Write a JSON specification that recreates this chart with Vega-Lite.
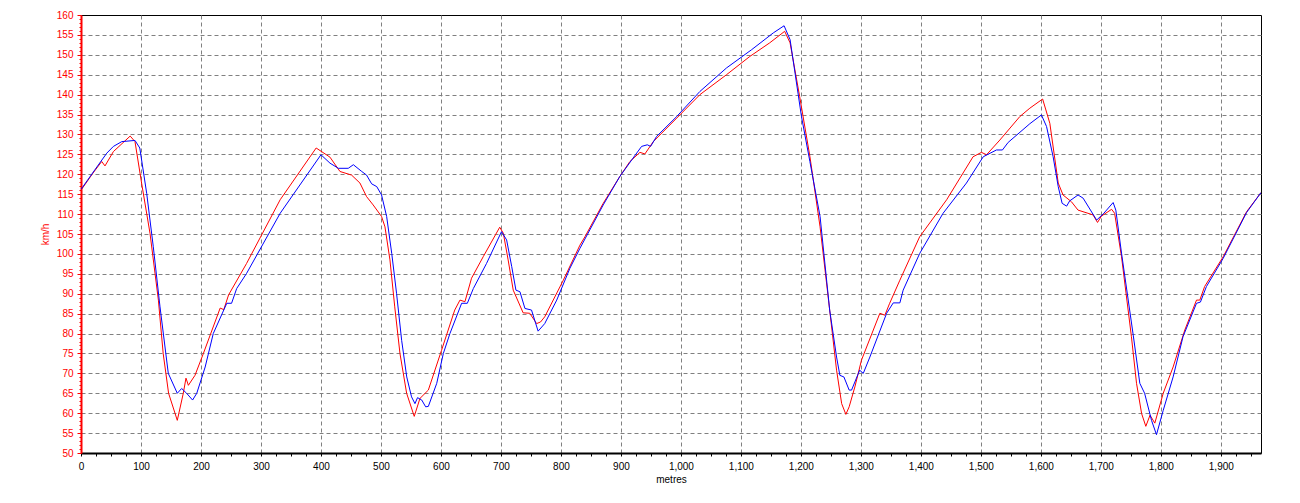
{
  "$schema": "https://vega.github.io/schema/vega-lite/v6.json",
  "width": 1180,
  "height": 438,
  "autosize": {"type": "none"},
  "padding": {"left": 81, "top": 15, "right": 39, "bottom": 50},
  "background": "#ffffff",
  "config": {
    "view": {"stroke": "#000000", "strokeWidth": 1},
    "font": "Liberation Sans"
  },
  "datasets": {
    "red": [
      {"m": 0, "v": 116}, {"m": 20, "v": 120.3}, {"m": 34.5, "v": 123.2}, {"m": 40, "v": 122.1}, {"m": 54, "v": 125.7}, {"m": 82, "v": 129.6}, {"m": 90, "v": 128.2}, {"m": 101, "v": 117.8}, {"m": 115, "v": 105.2}, {"m": 129, "v": 88.4}, {"m": 137, "v": 75}, {"m": 146, "v": 65}, {"m": 160.5, "v": 58.2}, {"m": 170.5, "v": 65}, {"m": 175, "v": 68.8}, {"m": 179, "v": 67}, {"m": 190, "v": 69.5}, {"m": 204, "v": 75}, {"m": 232, "v": 86.4}, {"m": 238, "v": 86}, {"m": 246, "v": 89.7}, {"m": 276, "v": 97.6}, {"m": 332, "v": 113.6}, {"m": 392, "v": 126.6}, {"m": 415, "v": 124.3}, {"m": 431.7, "v": 120.7}, {"m": 451, "v": 119.8}, {"m": 465, "v": 117.8}, {"m": 476, "v": 114.4}, {"m": 487, "v": 112.3}, {"m": 501, "v": 109.4}, {"m": 506.7, "v": 106.8}, {"m": 515, "v": 98.5}, {"m": 523, "v": 86.7}, {"m": 531.7, "v": 75}, {"m": 542.8, "v": 65}, {"m": 555.5, "v": 59.2}, {"m": 565, "v": 63.7}, {"m": 579, "v": 65.8}, {"m": 601, "v": 75.8}, {"m": 623, "v": 85.9}, {"m": 631.7, "v": 88.4}, {"m": 640, "v": 88}, {"m": 651, "v": 93.9}, {"m": 670.5, "v": 99.3}, {"m": 698, "v": 106.7}, {"m": 704, "v": 105.2}, {"m": 712, "v": 98.5}, {"m": 720.5, "v": 90.9}, {"m": 737, "v": 85.2}, {"m": 748, "v": 85.1}, {"m": 759.5, "v": 82.5}, {"m": 766, "v": 82.9}, {"m": 773, "v": 84.2}, {"m": 804, "v": 93.4}, {"m": 831.7, "v": 102.2}, {"m": 840, "v": 104.3}, {"m": 870.5, "v": 112.7}, {"m": 898, "v": 119.4}, {"m": 915, "v": 123.2}, {"m": 931.7, "v": 125.5}, {"m": 940, "v": 125.1}, {"m": 954, "v": 128.2}, {"m": 993, "v": 134.1}, {"m": 1031.7, "v": 140}, {"m": 1076, "v": 145}, {"m": 1115, "v": 149.6}, {"m": 1148, "v": 153}, {"m": 1173, "v": 155.9}, {"m": 1182, "v": 153}, {"m": 1198, "v": 139.5}, {"m": 1215, "v": 124.5}, {"m": 1232, "v": 106.8}, {"m": 1248, "v": 85.9}, {"m": 1259.5, "v": 70.8}, {"m": 1268, "v": 62.4}, {"m": 1275, "v": 59.7}, {"m": 1280.5, "v": 61.6}, {"m": 1290, "v": 66.6}, {"m": 1301, "v": 73.3}, {"m": 1331.7, "v": 85.1}, {"m": 1340, "v": 84.6}, {"m": 1348, "v": 87.6}, {"m": 1365, "v": 93.4}, {"m": 1398, "v": 104.3}, {"m": 1443, "v": 113.6}, {"m": 1487, "v": 124.4}, {"m": 1501, "v": 125.5}, {"m": 1509.5, "v": 124.9}, {"m": 1531.7, "v": 128.6}, {"m": 1565, "v": 134.5}, {"m": 1581.7, "v": 136.6}, {"m": 1603, "v": 138.9}, {"m": 1615, "v": 132.8}, {"m": 1629, "v": 117.8}, {"m": 1637, "v": 114.8}, {"m": 1651, "v": 113.1}, {"m": 1662, "v": 111}, {"m": 1687, "v": 109.8}, {"m": 1694.5, "v": 107.9}, {"m": 1701, "v": 109.5}, {"m": 1718, "v": 111.2}, {"m": 1723, "v": 110.2}, {"m": 1734.5, "v": 99.3}, {"m": 1751, "v": 79.2}, {"m": 1759.5, "v": 67.5}, {"m": 1768, "v": 59.9}, {"m": 1775, "v": 56.7}, {"m": 1782, "v": 59.5}, {"m": 1790, "v": 57.5}, {"m": 1804, "v": 65}, {"m": 1820.5, "v": 71.6}, {"m": 1840, "v": 80.9}, {"m": 1859.5, "v": 88.4}, {"m": 1865, "v": 88.4}, {"m": 1873, "v": 91.8}, {"m": 1904, "v": 99.3}, {"m": 1943, "v": 110.6}, {"m": 1967, "v": 115.4}
    ],
    "blue": [
      {"m": 0, "v": 116.2}, {"m": 23, "v": 121.1}, {"m": 43, "v": 125.3}, {"m": 54, "v": 127}, {"m": 68, "v": 128.2}, {"m": 90, "v": 128.5}, {"m": 98, "v": 126.6}, {"m": 109.5, "v": 115.2}, {"m": 120.5, "v": 101.8}, {"m": 131.7, "v": 86.7}, {"m": 145.5, "v": 70}, {"m": 160.5, "v": 65}, {"m": 167.8, "v": 66.2}, {"m": 176, "v": 65}, {"m": 186, "v": 63.3}, {"m": 193, "v": 65}, {"m": 207, "v": 71.6}, {"m": 220.5, "v": 80}, {"m": 243, "v": 87.6}, {"m": 251, "v": 87.6}, {"m": 259.5, "v": 91.3}, {"m": 276, "v": 95.1}, {"m": 332, "v": 110.2}, {"m": 400, "v": 124.9}, {"m": 415, "v": 122.8}, {"m": 429, "v": 121.5}, {"m": 445.5, "v": 121.5}, {"m": 454, "v": 122.4}, {"m": 468, "v": 120.7}, {"m": 476, "v": 119.8}, {"m": 484.5, "v": 117.6}, {"m": 493, "v": 116.9}, {"m": 501, "v": 114.8}, {"m": 509.5, "v": 109.4}, {"m": 518, "v": 100.1}, {"m": 526, "v": 90.1}, {"m": 534.5, "v": 78.3}, {"m": 543, "v": 69.1}, {"m": 551, "v": 64.1}, {"m": 556.7, "v": 62.4}, {"m": 561, "v": 63.9}, {"m": 568, "v": 63.3}, {"m": 574.5, "v": 61.6}, {"m": 579, "v": 61.7}, {"m": 593, "v": 67.5}, {"m": 604, "v": 75}, {"m": 615, "v": 80}, {"m": 634.5, "v": 87.6}, {"m": 644, "v": 87.6}, {"m": 654, "v": 91.3}, {"m": 676, "v": 97.6}, {"m": 701, "v": 105.6}, {"m": 709.5, "v": 103.5}, {"m": 718, "v": 96.8}, {"m": 725, "v": 90.9}, {"m": 731.7, "v": 90.5}, {"m": 740, "v": 86.3}, {"m": 751, "v": 85.9}, {"m": 762, "v": 80.6}, {"m": 773, "v": 82.5}, {"m": 793, "v": 88.4}, {"m": 815, "v": 96.4}, {"m": 831.7, "v": 101.4}, {"m": 870.5, "v": 112.3}, {"m": 898, "v": 119.4}, {"m": 918, "v": 123.6}, {"m": 934.5, "v": 127}, {"m": 944, "v": 127.4}, {"m": 949.5, "v": 127}, {"m": 959.5, "v": 129.5}, {"m": 993, "v": 134.5}, {"m": 1031.7, "v": 140.8}, {"m": 1076, "v": 146.7}, {"m": 1118, "v": 151.3}, {"m": 1154, "v": 155.5}, {"m": 1172, "v": 157.3}, {"m": 1182, "v": 153.8}, {"m": 1201, "v": 134.5}, {"m": 1215, "v": 123.2}, {"m": 1232, "v": 109.4}, {"m": 1248, "v": 85.9}, {"m": 1259.5, "v": 74.1}, {"m": 1265, "v": 69.5}, {"m": 1271.7, "v": 69.1}, {"m": 1280.5, "v": 65.8}, {"m": 1284.5, "v": 65.8}, {"m": 1298, "v": 70.8}, {"m": 1304, "v": 70}, {"m": 1315, "v": 74.1}, {"m": 1343, "v": 85.1}, {"m": 1354, "v": 87.7}, {"m": 1365, "v": 87.7}, {"m": 1370.5, "v": 90.9}, {"m": 1398, "v": 100.1}, {"m": 1437, "v": 110.2}, {"m": 1476, "v": 117.8}, {"m": 1504, "v": 124.4}, {"m": 1526, "v": 126.1}, {"m": 1536, "v": 126.1}, {"m": 1545.5, "v": 128}, {"m": 1581.7, "v": 132.7}, {"m": 1601, "v": 134.9}, {"m": 1609.5, "v": 132}, {"m": 1620.5, "v": 124.4}, {"m": 1629, "v": 116.9}, {"m": 1635.5, "v": 112.7}, {"m": 1643, "v": 112}, {"m": 1648, "v": 113.3}, {"m": 1662, "v": 114.8}, {"m": 1670.5, "v": 114}, {"m": 1693, "v": 108.5}, {"m": 1705, "v": 110.2}, {"m": 1720.5, "v": 112.9}, {"m": 1725, "v": 111}, {"m": 1734.5, "v": 100.2}, {"m": 1754, "v": 79.6}, {"m": 1765, "v": 67.5}, {"m": 1773, "v": 65}, {"m": 1784.5, "v": 58.2}, {"m": 1792.8, "v": 54.6}, {"m": 1804, "v": 60.7}, {"m": 1820.5, "v": 69.1}, {"m": 1837, "v": 79.2}, {"m": 1859.5, "v": 87.6}, {"m": 1866, "v": 87.9}, {"m": 1876, "v": 91.8}, {"m": 1904, "v": 98.9}, {"m": 1943, "v": 110.4}, {"m": 1967, "v": 115.4}
    ]
  },
  "encoding": {
    "x": {
      "field": "m",
      "type": "quantitative",
      "scale": {"domain": [0, 1967], "nice": false, "zero": false},
      "axis": {
        "title": "metres",
        "values": [0,25,50,75,100,125,150,175,200,225,250,275,300,325,350,375,400,425,450,475,500,525,550,575,600,625,650,675,700,725,750,775,800,825,850,875,900,925,950,975,1000,1025,1050,1075,1100,1125,1150,1175,1200,1225,1250,1275,1300,1325,1350,1375,1400,1425,1450,1475,1500,1525,1550,1575,1600,1625,1650,1675,1700,1725,1750,1775,1800,1825,1850,1875,1900,1925,1950],
        "labelExpr": "datum.value % 100 === 0 ? format(datum.value, ',') : ''",
        "labelOverlap": false,
        "labelFlush": false,
        "labelBound": false,
        "grid": true,
        "gridColor": "#808080",
        "gridDash": [4, 3],
        "gridWidth": 1,
        "gridOpacity": {"condition": {"test": "datum.value % 100 === 0 && datum.value > 0", "value": 1}, "value": 0},
        "domainColor": "#000000",
        "domainWidth": 2,
        "tickColor": "#000000",
        "tickSize": 3,
        "labelColor": "#000000",
        "labelFont": "Liberation Sans",
        "labelFontSize": 10,
        "labelPadding": 5,
        "titleFont": "Liberation Sans",
        "titleFontSize": 10,
        "titleFontWeight": "normal",
        "titleColor": "#000000",
        "titlePadding": 3
      }
    },
    "y": {
      "field": "v",
      "type": "quantitative",
      "scale": {"domain": [50, 160], "nice": false, "zero": false},
      "axis": {
        "title": "km/h",
        "values": [50,51,52,53,54,55,56,57,58,59,60,61,62,63,64,65,66,67,68,69,70,71,72,73,74,75,76,77,78,79,80,81,82,83,84,85,86,87,88,89,90,91,92,93,94,95,96,97,98,99,100,101,102,103,104,105,106,107,108,109,110,111,112,113,114,115,116,117,118,119,120,121,122,123,124,125,126,127,128,129,130,131,132,133,134,135,136,137,138,139,140,141,142,143,144,145,146,147,148,149,150,151,152,153,154,155,156,157,158,159,160],
        "labelExpr": "datum.value % 5 === 0 ? datum.label : ''",
        "labelOverlap": false,
        "labelFlush": false,
        "labelBound": false,
        "grid": true,
        "gridColor": "#808080",
        "gridDash": [4, 3],
        "gridWidth": 1,
        "gridOpacity": {"condition": {"test": "datum.value % 5 === 0 && datum.value > 50 && datum.value < 160", "value": 1}, "value": 0},
        "domainColor": "#ff0000",
        "domainWidth": 2,
        "tickColor": "#ff0000",
        "tickSize": {"condition": {"test": "datum.value % 5 === 0", "value": 4}, "value": 2},
        "labelColor": "#ff0000",
        "labelFont": "Liberation Sans",
        "labelFontSize": 10,
        "labelPadding": 4,
        "titleFont": "Liberation Sans",
        "titleFontSize": 10,
        "titleFontWeight": "normal",
        "titleColor": "#ff0000",
        "titlePadding": 6
      }
    }
  },
  "layer": [
    {
      "data": {"name": "red"},
      "mark": {"type": "line", "color": "#ff0000", "strokeWidth": 1, "clip": true}
    },
    {
      "data": {"name": "blue"},
      "mark": {"type": "line", "color": "#0000ff", "strokeWidth": 1, "clip": true}
    }
  ]
}
